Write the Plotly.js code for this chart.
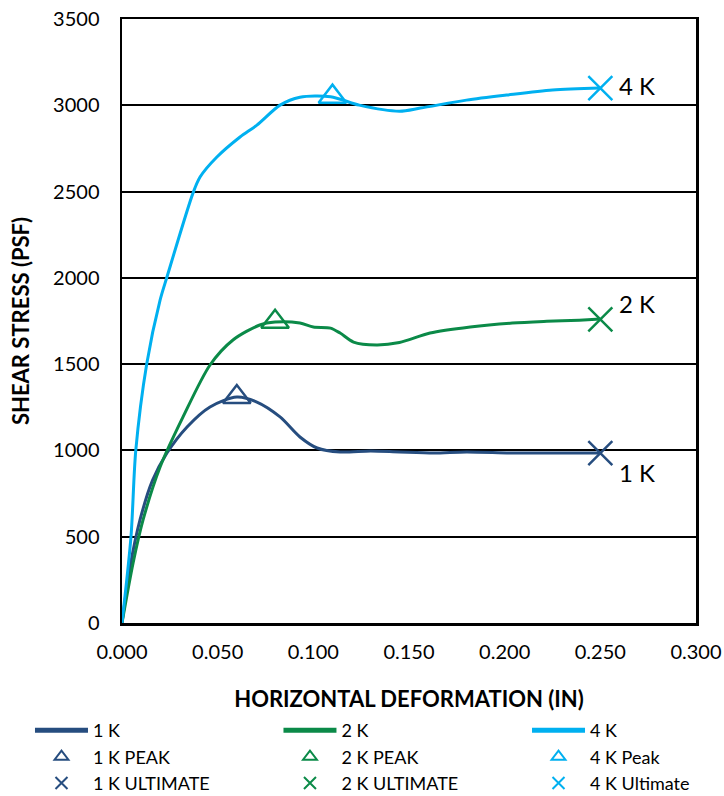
<!DOCTYPE html>
<html>
<head>
<meta charset="utf-8">
<script src="https://cdn.plot.ly/plotly-3.0.1.min.js"></script>
<style>html,body{margin:0;padding:0;background:#fff;}#chart{width:724px;height:796px;}</style>
</head>
<body>
<div id="chart"></div>
<script>
// 1 K curve
const x1K = [0, 0.0042, 0.0094, 0.016, 0.0235, 0.034, 0.046, 0.060, 0.0705, 0.0826, 0.093, 0.102, 0.114, 0.130, 0.145, 0.163, 0.180, 0.204, 0.225, 0.250];
const y1K = [0, 324, 597, 828, 985, 1136, 1252, 1309, 1280, 1194, 1078, 1014, 991, 997, 991, 985, 991, 985, 985, 985];
// 2 K curve
const x2K = [0, 0.0058, 0.011, 0.0199, 0.0319, 0.046, 0.058, 0.072, 0.080, 0.093, 0.100, 0.109, 0.114, 0.121, 0.133, 0.145, 0.161, 0.182, 0.204, 0.222, 0.239, 0.250];
const y2K = [0, 348, 597, 904, 1194, 1495, 1640, 1727, 1744, 1738, 1715, 1709, 1680, 1628, 1611, 1625, 1680, 1715, 1738, 1748, 1755, 1761];
// 4 K curve
const x4K = [0, 0.0047, 0.0072, 0.0129, 0.0199, 0.0235, 0.0371, 0.0408, 0.0496, 0.0617, 0.0705, 0.0826, 0.093, 0.109, 0.124, 0.145, 0.156, 0.180, 0.201, 0.225, 0.250];
const y4K = [0, 500, 1000, 1500, 1871, 2005, 2491, 2584, 2700, 2816, 2885, 3001, 3047, 3050, 3001, 2966, 2984, 3030, 3059, 3088, 3100];
// peaks and ultimates
const peakX = [0.060, 0.080, 0.110];
const peakY = [1310, 1745, 3050];
const ultX = [0.250, 0.250, 0.250];
const ultY = [985, 1760, 3100];
const seriesNames = ["1 K", "2 K", "4 K"];
const peakNames = ["1 K PEAK", "2 K PEAK", "4 K Peak"];
const ultNames = ["1 K ULTIMATE", "2 K ULTIMATE", "4 K Ultimate"];
const xTicks = [0, 0.05, 0.10, 0.15, 0.20, 0.25, 0.30];
const xTickText = ["0.000", "0.050", "0.100", "0.150", "0.200", "0.250", "0.300"];
const yTicks = [0, 500, 1000, 1500, 2000, 2500, 3000, 3500];

const colors = ["#264D7F", "#0B8A48", "#00B0F0"];
const curvesX = [x1K, x2K, x4K];
const curvesY = [y1K, y2K, y4K];
const legendIds = ["legend", "legend2", "legend3"];
const FONT = "Lato, 'Open Sans', sans-serif";

const traces = [];
for (let i = 0; i < 3; i++) {
  traces.push({x: curvesX[i], y: curvesY[i], type: 'scatter', mode: 'lines', name: seriesNames[i], legend: legendIds[i],
    line: {color: colors[i], width: 3, shape: 'spline', smoothing: 0.8}, hoverinfo: 'skip'});
}
for (let i = 0; i < 3; i++) {
  traces.push({x: [peakX[i]], y: [peakY[i]], type: 'scatter', mode: 'markers', name: peakNames[i], legend: legendIds[i],
    marker: {symbol: 'triangle-up-open', size: 24, color: colors[i], line: {color: colors[i], width: 2.5}}});
}
for (let i = 0; i < 3; i++) {
  traces.push({x: [ultX[i]], y: [ultY[i]], type: 'scatter', mode: 'markers', name: ultNames[i], legend: legendIds[i],
    marker: {symbol: 'x-thin-open', size: 24, color: colors[i], line: {color: colors[i], width: 2.5}}});
}

const labelShiftY = [-19, 16, 3];
const annotations = seriesNames.map((n, i) => ({
  x: ultX[i], y: ultY[i], xref: 'x', yref: 'y', text: n, showarrow: false,
  xanchor: 'left', xshift: 17, yshift: labelShiftY[i],
  font: {family: FONT, size: 24, color: '#000'}
}));

const legendBase = {
  orientation: 'v', xref: 'paper', yref: 'paper', xanchor: 'left', y: -0.1474, yanchor: 'top',
  itemwidth: 53, itemsizing: 'constant', tracegroupgap: 0,
  font: {family: FONT, size: 18, color: '#000'}, bgcolor: 'rgba(0,0,0,0)', borderwidth: 0
};
const legendX = [-0.1603, 0.2726, 0.7056];

const layout = {
  width: 724, height: 796,
  margin: {l: 122, r: 28, t: 19, b: 173, autoexpand: false},
  paper_bgcolor: '#fff', plot_bgcolor: '#fff',
  font: {family: FONT, color: '#000'},
  showlegend: true,
  xaxis: {
    range: [0, 0.3], tickvals: xTicks, ticktext: xTickText, showgrid: false, zeroline: false,
    showline: true, linecolor: '#000', linewidth: 2.5, mirror: true,
    ticks: 'outside', ticklen: 9, tickcolor: 'rgba(0,0,0,0)',
    tickfont: {family: FONT, size: 20, color: '#000'},
    title: {text: 'HORIZONTAL DEFORMATION (IN)', font: {family: FONT, size: 22, color: '#000', weight: 'bold'}, standoff: 30}
  },
  yaxis: {
    range: [0, 3500], tickvals: yTicks, showgrid: true, gridcolor: '#000', gridwidth: 2, zeroline: false,
    showline: true, linecolor: '#000', linewidth: 2.5, mirror: true,
    ticks: 'outside', ticklen: 16, tickcolor: 'rgba(0,0,0,0)',
    tickfont: {family: FONT, size: 20, color: '#000'},
    title: {text: 'SHEAR STRESS (PSF)', font: {family: FONT, size: 22, color: '#000', weight: 'bold'}, standoff: 18}
  },
  legend: Object.assign({}, legendBase, {x: legendX[0]}),
  legend2: Object.assign({}, legendBase, {x: legendX[1]}),
  legend3: Object.assign({}, legendBase, {x: legendX[2]}),
  annotations: annotations
};

Plotly.newPlot('chart', traces, layout, {displayModeBar: false, staticPlot: true});
</script>
</body>
</html>
